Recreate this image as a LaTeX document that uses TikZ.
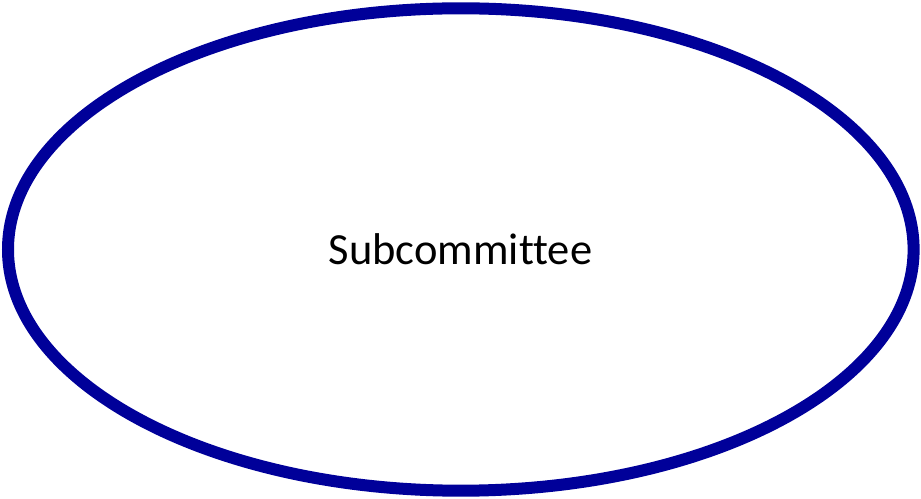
\documentclass[tikz,border=0pt]{standalone}
\usepackage{fontspec}
\setmainfont[Ligatures={NoCommon}]{Carlito}
\definecolor{ellblue}{RGB}{0,0,153}
\begin{document}
\begin{tikzpicture}[x=1pt,y=1pt,
  ellstyle/.style={draw=ellblue,line width=12pt}]
\useasboundingbox (0,0) rectangle (921,498);
\draw[ellstyle] (460.8,248.5) ellipse [x radius=452.8, y radius=241.2];
\node[anchor=base,inner sep=0pt,font=\fontsize{44.5}{50}\selectfont] (lbl) at (460.5,233) {Subcommittee};
\end{tikzpicture}
\end{document}
